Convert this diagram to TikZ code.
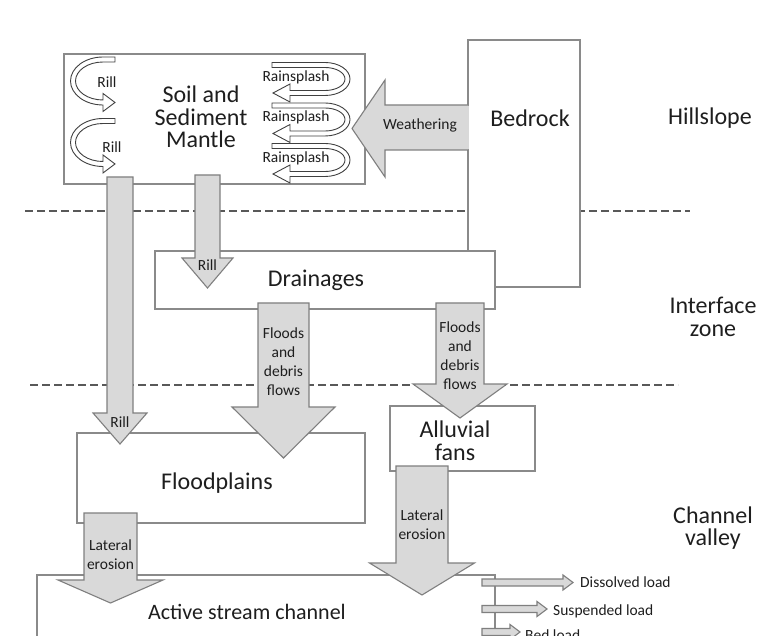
\documentclass[tikz,border=0pt]{standalone}
\usepackage{fontspec}
\setmainfont{Carlito}
\usepackage{xcolor}

\definecolor{boxline}{HTML}{8A8A8A}
\definecolor{arrowfill}{HTML}{D9D9D9}
\definecolor{arrowline}{HTML}{7F7F7F}
\definecolor{curvline}{HTML}{404040}
\definecolor{txt}{HTML}{1E1E1E}

% block arrow pointing down: centre x, top, head base, tip, half shaft, half head
\newcommand{\blockdown}[6]{%
  \draw[blockarrow] (#1-#5,#2) -- (#1+#5,#2) -- (#1+#5,#3) -- (#1+#6,#3)
    -- (#1,#4) -- (#1-#6,#3) -- (#1-#5,#3) -- cycle;}
% small block arrow pointing right: start x, y, tip x
\newcommand{\blockright}[3]{%
  \draw[blockarrow] (#1,#2-3.5) -- (#3-10,#2-3.5) -- (#3-10,#2-7.5) -- (#3,#2)
    -- (#3-10,#2+7.5) -- (#3-10,#2+3.5) -- (#1,#2+3.5) -- cycle;}

\begin{document}
\begin{tikzpicture}[x=1pt,y=-1pt,
  box/.style={draw=boxline,line width=1.3pt,fill=white,inner sep=0pt},
  blockarrow/.style={draw=arrowline,fill=arrowfill,line width=1.1pt,line join=miter},
  curvarrow/.style={draw=curvline,fill=white,line width=0.9pt},
  zoneline/.style={draw=black!65,line width=1.8pt,dash pattern=on 8pt off 4pt},
  big/.style={text=txt,font=\fontsize{24}{22.5}\selectfont,align=center,inner sep=0pt},
  small/.style={text=txt,font=\fontsize{15.5}{19}\selectfont,align=center,inner sep=0pt},
  rill/.pic={
    \draw[curvarrow] (12,-24) -- (0,-24)
      arc[start angle=-90,end angle=-270,x radius=32.5,y radius=24]
      -- (0,30.5) -- (12,21.5) -- (0,12.5) -- (0,19)
      arc[start angle=-270,end angle=-90,x radius=27.5,y radius=19]
      -- (12,-19) -- cycle;},
  splash/.pic={
    \draw[curvarrow] (-53,-16.5) -- (0,-16.5)
      arc[start angle=-90,end angle=90,x radius=25,y radius=16.5]
      -- (-35,16.5) -- (-35,23) -- (-52,14) -- (-35,5) -- (-35,11.5) -- (0,11.5)
      arc[start angle=90,end angle=-90,x radius=20,y radius=11.5]
      -- (-53,-11.5) -- cycle;}]
  \useasboundingbox (0,0) rectangle (763,636);
  \clip (0,0) rectangle (763,636);

  % zone boundaries
  \draw[zoneline] (25,211) -- (690,211);
  \draw[zoneline] (30,385) -- (678,385);

  % boxes
  \node[box,minimum width=301pt,minimum height=130pt] (soil) at (214.5,119) {};
  \node[box,minimum width=112pt,minimum height=247pt] (bedrock) at (524,163.5) {};
  \node[box,minimum width=340pt,minimum height=58pt] (drainages) at (325,280) {};
  \node[box,minimum width=288pt,minimum height=90pt] (floodplains) at (221,478) {};
  \node[box,minimum width=145pt,minimum height=65pt] (fans) at (462.5,438.5) {};
  \node[box,minimum width=458pt,minimum height=140pt] (channel) at (266,645) {};

  % rill and rainsplash loops
  \pic at (103,81) {rill};
  \pic at (103,142.5) {rill};
  \pic at (325,79) {splash};
  \pic at (325,119.5) {splash};
  \pic at (325,160) {splash};

  % weathering
  \draw[blockarrow] (468,105) -- (385,105) -- (385,80) -- (352,128.5)
    -- (385,177) -- (385,150) -- (468,150);
  \fill[arrowfill] (467.4,105.6) rectangle (468.6,149.4);

  % downward transfers
  \blockdown{120}{177}{413}{444}{13}{27}
  \blockdown{207.5}{175}{258}{288}{12.5}{25.5}
  \blockdown{283.5}{303}{407}{458}{25.5}{51.5}
  \blockdown{460}{303}{384}{418}{24}{47}
  \blockdown{110.5}{513}{580}{603}{26.5}{52.5}
  \blockdown{422}{466}{563}{595}{26}{52.5}

  % outputs
  \blockright{482}{582.5}{573}
  \blockright{482}{609}{547}
  \blockright{482}{632}{520}

  % labels
  \node[big] (soil-label) at (201,117) {Soil and\\Sediment\\Mantle};
  \node[big] (bedrock-label) at (530,118) {Bedrock};
  \node[big] (hillslope) at (710,118) {Hillslope};
  \node[big] (interface) at (713,317) {Interface\\zone};
  \node[big] (valley) at (713,528) {Channel\\valley};
  \node[big] (drainages-label) at (316,280) {Drainages};
  \node[big] (floodplains-label) at (217,483) {Floodplains};
  \node[big] (fans-label) at (455,441) {Alluvial\\fans};
  \node[big,anchor=west,font=\fontsize{22}{22}\selectfont] (channel-label) at (148,612) {Active stream channel};

  \node[small] (rill-a) at (107,82) {Rill};
  \node[small] (rill-b) at (112,147) {Rill};
  \node[small] (splash-a) at (296,77) {Rainsplash};
  \node[small] (splash-b) at (296,117) {Rainsplash};
  \node[small] (splash-c) at (296,158) {Rainsplash};
  \node[small] (weathering) at (420,125) {Weathering};
  \node[small] (rill-c) at (120,422) {Rill};
  \node[small] (rill-d) at (207.5,265) {Rill};
  \node[small] (floods-a) at (283.5,362) {Floods\\and\\debris\\flows};
  \node[small] (floods-b) at (460,356) {Floods\\and\\debris\\flows};
  \node[small] (lateral-a) at (110.5,555) {Lateral\\erosion};
  \node[small] (lateral-b) at (422,525) {Lateral\\erosion};
  \node[small,anchor=west] (dissolved) at (580,582) {Dissolved load};
  \node[small,anchor=west] (suspended) at (553,611) {Suspended load};
  \node[small,anchor=west] (bedload) at (525,635) {Bed load};
\end{tikzpicture}
\end{document}
